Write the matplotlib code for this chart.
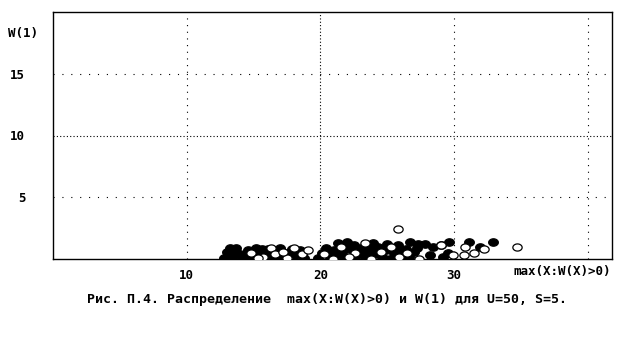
#!/usr/bin/env python3
"""Scatter of max(X:W(X)>0) against W(1), U=50, S=5."""

import matplotlib
matplotlib.use("Agg")
import matplotlib.pyplot as plt
import numpy as np
from matplotlib.path import Path

# filled points (x, W(1))
filled_x = [12.8, 13.0, 13.4, 13.7, 14.0, 14.3, 14.6, 14.9, 15.2, 15.5, 15.8, 16.1,
            16.4, 16.7, 17.0, 17.3, 17.6, 17.9, 18.2, 18.5, 18.8, 14.1, 15.0, 16.9,
            13.2, 15.6, 13.6, 14.5, 15.4, 16.2, 17.1, 18.0, 18.6, 16.0,
            19.8, 20.1, 20.4, 20.7, 21.0, 21.3, 21.6, 21.9, 22.2, 22.5, 22.8, 23.1,
            23.4, 23.7, 24.0, 24.3, 24.6, 24.9, 25.2, 25.5, 25.8, 26.1, 26.4, 26.7,
            27.0, 27.3, 22.0, 23.9, 25.0, 27.8, 28.4, 28.2,
            20.6, 21.2, 21.8, 22.4, 23.0, 23.6, 24.2, 24.8, 25.4, 26.0, 26.6, 27.2,
            29.6, 29.0, 31.1, 31.9, 32.9, 29.5, 29.2]
filled_y = [0.1, 0.6, 0.2, 0.9, 0.4, 0.1, 0.7, 0.3, 0.9, 0.1, 0.5, 0.8,
            0.2, 0.6, 0.9, 0.1, 0.5, 0.8, 0.3, 0.7, 0.1, 0.0, 0.0, 0.0,
            0.9, 0.8, 0.4, 0.5, 0.4, 0.4, 0.4, 0.4, 0.5, 0.0,
            0.1, 0.5, 0.9, 0.2, 0.7, 1.3, 0.4, 0.0, 0.8, 1.1, 0.3, 0.6,
            0.1, 0.9, 0.4, 1.0, 0.2, 0.7, 0.0, 0.5, 1.1, 0.3, 0.8, 1.4,
            0.6, 1.2, 1.4, 1.3, 1.2, 1.25, 1.0, 0.3,
            0.6, 0.3, 0.9, 0.2, 0.9, 0.4, 0.6, 0.0, 0.8, 0.6, 0.2, 0.9,
            1.35, 1.1, 1.4, 1.0, 1.35, 0.45, 0.2]

# open points
open_x = [14.8, 15.7, 16.3, 16.6, 17.5, 18.0, 18.6, 19.1, 15.3, 17.2,
          20.9, 21.5, 22.6, 23.3, 23.8, 24.5, 25.3, 25.9, 26.5, 27.4, 20.3, 22.1,
          25.8, 29.0, 30.8, 32.2, 34.7, 29.9, 30.7, 31.5]
open_y = [0.5, 0.2, 0.9, 0.4, 0.1, 0.9, 0.4, 0.7, 0.1, 0.6,
          0.0, 1.0, 0.5, 1.3, 0.0, 0.6, 1.0, 0.2, 0.5, 0.0, 0.4, 0.2,
          2.4, 1.1, 1.0, 0.8, 0.95, 0.3, 0.3, 0.45]

x_ticks = [10, 20, 30]
y_ticks = [5, 10, 15]

FONT = dict(family="DejaVu Sans Mono", fontweight="bold", fontsize=9)

# wide ellipse marker, like the original plotter dots
t = np.linspace(0, 2 * np.pi, 25)
ellipse = Path(np.column_stack([1.3 * np.cos(t), np.sin(t)]), closed=True)

fig = plt.figure(figsize=(6.4, 3.5), dpi=100)
ax = fig.add_axes([53 / 640, 1 - 259 / 350, (612 - 53) / 640, (259 - 12) / 350])
ax.set_xlim(0, 41.8)
ax.set_ylim(0, 20)

# grid: sparse dots, denser on the 10 / 20 lines
for yv in y_ticks:
    ls = (0, (1, 2)) if yv == 10 else (0, (1, 7))
    ax.axhline(yv, color="black", lw=0.8, ls=ls, zorder=1)
for xv in [10, 20, 30, 40]:
    ls = (0, (1, 2)) if xv == 20 else (0, (1, 5))
    ax.axvline(xv, color="black", lw=0.8, ls=ls, zorder=1)

ax.scatter(filled_x, filled_y, marker=ellipse, s=50, facecolor="black",
           edgecolor="black", linewidths=0.8, zorder=3, clip_on=True)
ax.scatter(open_x, open_y, marker=ellipse, s=45, facecolor="white",
           edgecolor="black", linewidths=0.9, zorder=4, clip_on=True)

ax.set_xticks(x_ticks)
ax.set_xticklabels([str(v) for v in x_ticks], **FONT)
ax.set_yticks(y_ticks)
ax.set_yticklabels([str(v) for v in y_ticks], **FONT)
ax.tick_params(axis="both", length=0)
ax.tick_params(axis="x", pad=7)
ax.tick_params(axis="y", pad=20)
for sp in ax.spines.values():
    sp.set_linewidth(1.0)

fig.text(23 / 640, 1 - 34 / 350, "W(1)", ha="center", va="center", **FONT)
fig.text(562 / 640, 1 - 272 / 350, "max(X:W(X)>0)", ha="center", va="center", **FONT)
fig.text(327 / 640, 1 - 300 / 350,
         "Рис. П.4. Распределение  max(X:W(X)>0) и W(1) для U=50, S=5.",
         ha="center", va="center", family="DejaVu Sans Mono",
         fontweight="bold", fontsize=9.5)

fig.savefig("out.png", dpi=100, facecolor="white")
